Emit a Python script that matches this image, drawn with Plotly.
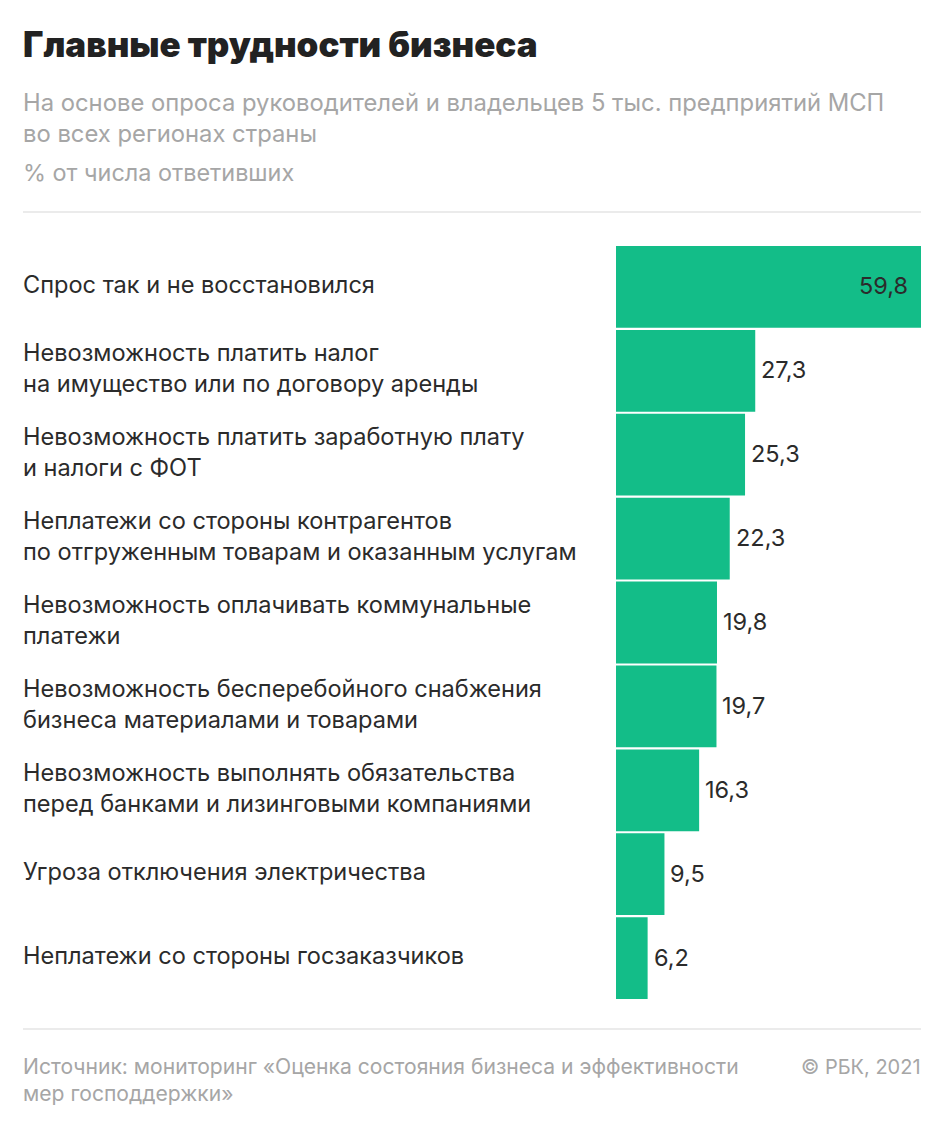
import plotly.graph_objects as go

categories = [
    'Спрос так и не восстановился',
    'Невозможность платить налог<br>на имущество или по договору аренды',
    'Невозможность платить заработную плату<br>и налоги с ФОТ',
    'Неплатежи со стороны контрагентов<br>по отгруженным товарам и оказанным услугам',
    'Невозможность оплачивать коммунальные<br>платежи',
    'Невозможность бесперебойного снабжения<br>бизнеса материалами и товарами',
    'Невозможность выполнять обязательства<br>перед банками и лизинговыми компаниями',
    'Угроза отключения электричества',
    'Неплатежи со стороны госзаказчиков',
]
values = [59.8, 27.3, 25.3, 22.3, 19.8, 19.7, 16.3, 9.5, 6.2]
value_labels = ['59,8', '27,3', '25,3', '22,3', '19,8', '19,7', '16,3', '9,5', '6,2']

title = 'Главные трудности бизнеса'
subtitle = 'На основе опроса руководителей и владельцев 5 тыс. предприятий МСП<br>во всех регионах страны'
units = '% от числа ответивших'
source = 'Источник: мониторинг «Оценка состояния бизнеса и эффективности<br>мер господдержки»'
credit = '© РБК, 2021'

# the page body adds an 8px margin, so everything is placed 8px up and left
PAGE = 8
W, H = 945 - 2 * PAGE, 1130 - 2 * PAGE
L, R, T, B = 616 - PAGE, 16, 245 - PAGE, 122
FONT = 'Inter'
DARK = '#2b2b2b'
GREY = '#a6a6a6'
RULE = '#e4e4e4'


def px(x):
    return (x - PAGE - L) / (W - L - R)


def py(y):
    return 1 - (y - PAGE - T) / (H - T - B)


def text(x, y, s, size, color, anchor='left', weight=None):
    return dict(x=px(x), y=py(y), xref='paper', yref='paper', text=s, showarrow=False,
                xanchor=anchor, yanchor='middle', align=anchor,
                font=dict(family=FONT, size=size, color=color, weight=weight))


fig = go.Figure()
fig.add_trace(go.Bar(x=values, y=categories, orientation='h',
                     marker=dict(color='#13bd88', line_width=0),
                     hoverinfo='skip'))

notes = [
    text(21, 44, title, 34.9, '#222222', weight=900),
    text(21, 118, subtitle, 23.8, GREY),
    text(21, 172, units, 23.4, GREY),
    text(21, 1080, source, 21.1, GREY),
    text(923, 1067, credit, 20, GREY, anchor='right'),
]
for c, v, lab in zip(categories, values, value_labels):
    notes.append(dict(x=px(21), y=c, xref='paper', yref='y', text=c, showarrow=False,
                      xanchor='left', align='left', yshift=2.5,
                      font=dict(family=FONT, size=23.55, color=DARK)))
    inside = v == max(values)
    notes.append(dict(x=v, y=c, xref='x', yref='y', text=lab, showarrow=False,
                      xanchor='right' if inside else 'left',
                      xshift=-11 if inside else 4, yshift=1,
                      font=dict(family=FONT, size=23.5, color=DARK)))

rules = [dict(type='line', xref='paper', yref='paper', x0=px(23), x1=px(921), y0=py(y), y1=py(y),
              line=dict(color=RULE, width=1.5)) for y in (212, 1029)]

fig.update_layout(width=W, height=H, margin=dict(l=L, r=R, t=T, b=B, pad=0),
                  paper_bgcolor='#ffffff', plot_bgcolor='#ffffff',
                  bargap=0.025, showlegend=False,
                  annotations=notes, shapes=rules,
                  xaxis=dict(visible=False, range=[0, 59.8], fixedrange=True),
                  yaxis=dict(visible=False, autorange='reversed', fixedrange=True))

fig.write_html('out.html')
